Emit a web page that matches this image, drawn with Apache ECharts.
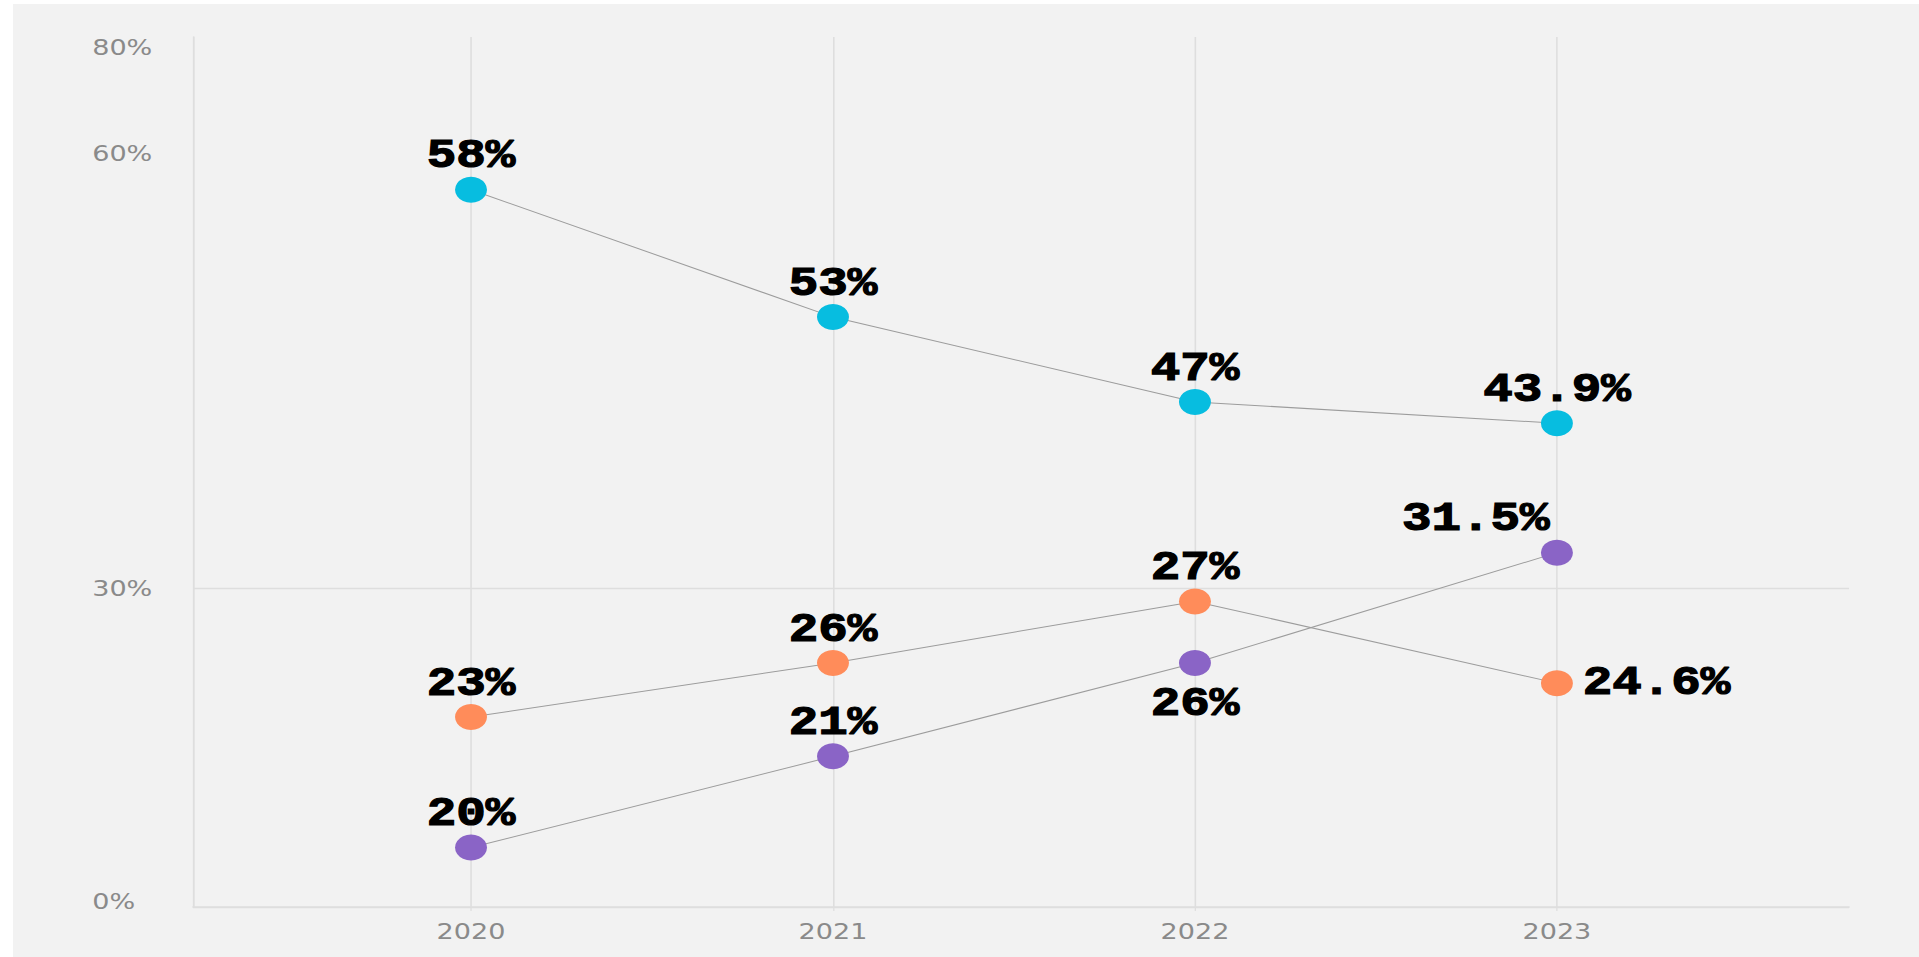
<!DOCTYPE html>
<html><head><meta charset="utf-8">
<script src="https://cdn.jsdelivr.net/npm/echarts@6/dist/echarts.min.js"></script>
<style>
html,body{margin:0;padding:0;background:#fff;width:1919px;height:957px;overflow:hidden}
#frame{position:absolute;left:13px;top:4px;width:1906px;height:953px;background:#f2f2f2;overflow:hidden}
#chart{position:absolute;left:0;top:0;width:1550px;height:953px;transform:scaleX(1.22968);transform-origin:0 0}
</style></head><body>
<div id="frame"><div id="chart"></div></div>
<script>
// categories (years)
const years = [2020, 2021, 2022, 2023];
// plotted positions (on the chart's vertical scale)
const blueValues   = [67.6, 55.6, 47.6, 45.6];
const orangeValues = [17.9, 23.0, 28.8, 21.1];
const purpleValues = [5.6, 14.2, 23.0, 33.4];
// data label texts as printed
const blueLabels   = ['58%', '53%', '47%', '43.9%'];
const orangeLabels = ['23%', '26%', '27%', '24.6%'];
const purpleLabels = ['20%', '21%', '26%', '31.5%'];
// y tick labels and where they sit on the scale
const yTickPos  = [0.5, 30, 71, 81];
const yTickText = ['0%', '30%', '60%', '80%'];

const labelFont = {fontFamily: 'Liberation Mono', fontWeight: 'bold', fontSize: 40, color: '#000',
  textBorderColor: '#000', textBorderWidth: 1.2};
const axisFont = {fontFamily: 'DejaVu Sans', fontSize: 22, color: '#8a8a8a'};

function mkSeries(name, color, values, labels, overrides) {
  return {
    name: name, type: 'line', symbol: 'circle', symbolSize: 26,
    itemStyle: {color: color},
    lineStyle: {color: '#9c9c9c', width: 1},
    z: 3,
    label: Object.assign({show: true, position: 'top', distance: 0,
      formatter: p => labels[p.dataIndex]}, labelFont),
    data: years.map((y, i) => {
      const item = {value: [y, values[i]]};
      if (overrides && overrides[i]) item.label = overrides[i];
      return item;
    })
  };
}

const chart = echarts.init(document.getElementById('chart'), null, {renderer: 'svg'});
chart.setOption({
  animation: false,
  backgroundColor: 'transparent',
  grid: {left: 146.4, right: 56.9, top: 33, bottom: 50},
  xAxis: {
    type: 'value', min: 2019.232, max: 2023.807,
    axisLine: {show: true, lineStyle: {color: '#dedede', width: 1.5}},
    axisTick: {show: true, length: 4, lineStyle: {color: '#dedede'}, customValues: years},
    axisLabel: Object.assign({margin: 13, customValues: years, formatter: v => String(v)}, axisFont),
    splitLine: {show: true, lineStyle: {color: '#dedede', width: 1.3}}
  },
  yAxis: {
    type: 'value', min: 0, max: 82,
    axisLine: {show: true, lineStyle: {color: '#dedede', width: 1.5}},
    axisTick: {show: false, customValues: [0, 30]},
    axisLabel: Object.assign({align: 'left', margin: 82, customValues: yTickPos,
      formatter: v => yTickText[yTickPos.indexOf(v)]}, axisFont),
    splitLine: {show: true, lineStyle: {color: '#dedede', width: 1.3}}
  },
  series: [
    mkSeries('blue', '#07bde0', blueValues, blueLabels),
    mkSeries('orange', '#ff8c5a', orangeValues, orangeLabels,
      {3: {position: 'right', distance: 8}}),
    mkSeries('purple', '#8a64c6', purpleValues, purpleLabels,
      {2: {position: 'bottom', distance: 8}, 3: {position: 'top', offset: [-66, 0]}})
  ]
});
</script>
</body></html>
